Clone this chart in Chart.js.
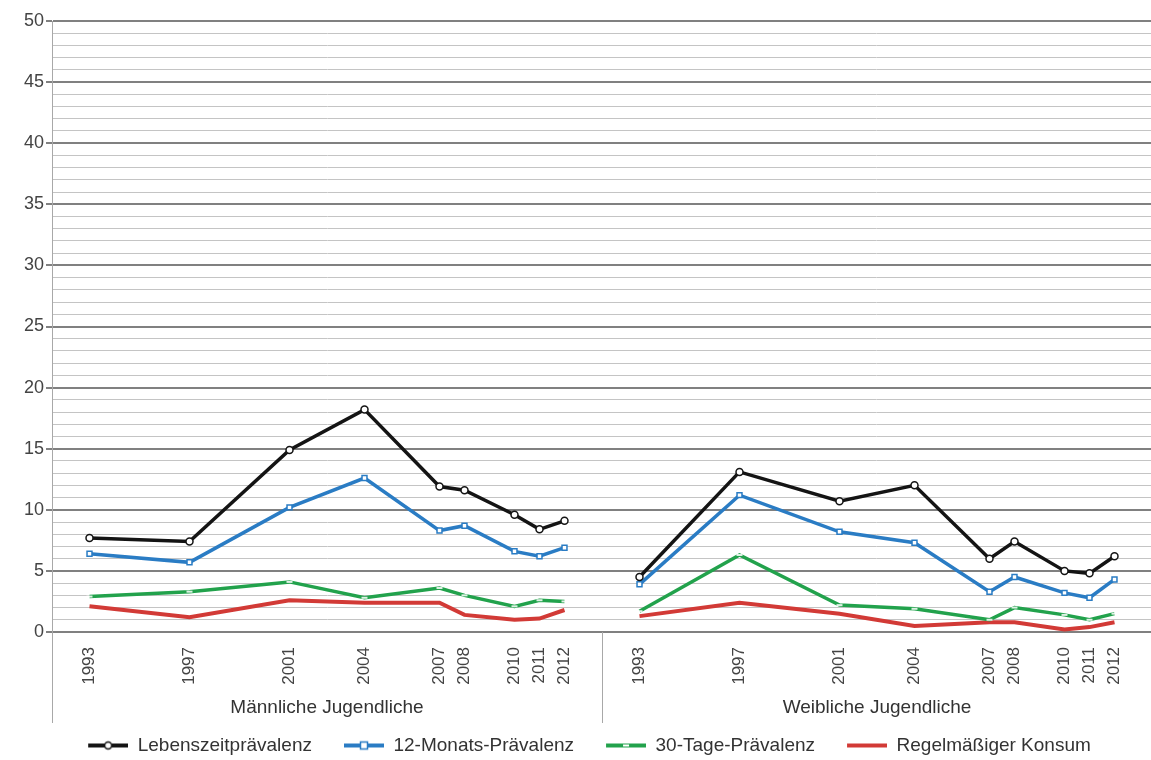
<!DOCTYPE html>
<html>
<head>
<meta charset="utf-8">
<script src="https://cdn.jsdelivr.net/npm/chart.js@4.4.0/dist/chart.umd.min.js"></script>
<style>
  html, body { margin: 0; padding: 0; background: #fff; }
</style>
</head>
<body>
<canvas id="chart" width="1151" height="760"></canvas>
<script>
// survey years (same for both groups)
const years = [1993, 1997, 2001, 2004, 2007, 2008, 2010, 2011, 2012];
const groupNames = ['Männliche Jugendliche', 'Weibliche Jugendliche'];
const seriesNames = ['Lebenszeitprävalenz', '12-Monats-Prävalenz', '30-Tage-Prävalenz', 'Regelmäßiger Konsum'];

// values in percent
const lebenszeitMale   = [7.7, 7.4, 14.9, 18.2, 11.9, 11.6, 9.6, 8.4, 9.1];
const lebenszeitFemale = [4.5, 13.1, 10.7, 12.0, 6.0, 7.4, 5.0, 4.8, 6.2];
const monate12Male     = [6.4, 5.7, 10.2, 12.6, 8.3, 8.7, 6.6, 6.2, 6.9];
const monate12Female   = [3.9, 11.2, 8.2, 7.3, 3.3, 4.5, 3.2, 2.8, 4.3];
const tage30Male       = [2.9, 3.3, 4.1, 2.8, 3.6, 3.0, 2.1, 2.6, 2.5];
const tage30Female     = [1.7, 6.3, 2.2, 1.9, 1.0, 2.0, 1.4, 1.0, 1.5];
const regelmMale       = [2.1, 1.2, 2.6, 2.4, 2.4, 1.4, 1.0, 1.1, 1.8];
const regelmFemale     = [1.3, 2.4, 1.5, 0.5, 0.8, 0.8, 0.2, 0.4, 0.8];

// second group is shifted along the x axis by this many years
const groupShift = 22;
const firstYear = years[0];
const lastYear = years[years.length - 1];

// x positions: years for group 1, shifted years for group 2
function xOf(year, group) {
    return year - firstYear + group * groupShift;
}

function buildPoints(male, female) {
    const pts = years.map((y, i) => ({ x: xOf(y, 0), y: male[i] }));
    pts.push({ x: (xOf(lastYear, 0) + xOf(firstYear, 1)) / 2, y: null }); // break between groups
    years.forEach((y, i) => pts.push({ x: xOf(y, 1), y: female[i] }));
    return pts;
}

const tickValues = [];
const tickLabels = {};
[0, 1].forEach(g => years.forEach(y => {
    tickValues.push(xOf(y, g));
    tickLabels[xOf(y, g)] = String(y);
}));

// small icons for the legend: line with marker in the middle,
// transparent margin on the left gives the gap between items
const iconGap = 28;
function legendIcon(color, marker) {
    const c = document.createElement('canvas');
    c.width = 40 + iconGap;
    c.height = 12;
    const g = c.getContext('2d');
    g.translate(iconGap, 0);
    g.strokeStyle = color;
    g.lineWidth = 4;
    g.beginPath();
    g.moveTo(0, 6);
    g.lineTo(40, 6);
    g.stroke();
    g.fillStyle = '#fff';
    g.lineWidth = 1.5;
    if (marker === 'circle') {
        g.beginPath();
        g.arc(20, 6, 3.5, 0, Math.PI * 2);
        g.fill();
        g.stroke();
    } else if (marker === 'rect') {
        g.fillRect(16.5, 2.5, 7, 7);
        g.strokeRect(16.5, 2.5, 7, 7);
    } else if (marker === 'dash') {
        g.fillRect(17, 5, 6, 2);
    }
    return c;
}

const colors = ['#141414', '#2a7cc4', '#22a24c', '#d23a36'];
const markers = ['circle', 'rect', 'dash', 'none'];
const icons = colors.map((c, i) => legendIcon(c, markers[i]));

// divider, extended axis line and group titles below the x axis
const groupPlugin = {
    id: 'groupLabels',
    afterDraw(chart) {
        const { ctx, chartArea, scales: { x } } = chart;
        const bottom = chartArea.bottom + 91;
        const divX = Math.round(x.getPixelForValue((xOf(lastYear, 0) + xOf(firstYear, 1)) / 2)) + 0.5;
        ctx.save();
        ctx.strokeStyle = '#a8a8a8';
        ctx.lineWidth = 1;
        ctx.beginPath();
        ctx.moveTo(chartArea.left + 0.5, chartArea.top);
        ctx.lineTo(chartArea.left + 0.5, bottom);
        ctx.moveTo(divX, chartArea.bottom);
        ctx.lineTo(divX, bottom);
        ctx.stroke();
        ctx.fillStyle = '#333';
        ctx.font = '19px "Liberation Sans", Arial, sans-serif';
        ctx.textAlign = 'center';
        ctx.textBaseline = 'middle';
        groupNames.forEach((name, g) => {
            const mid = (xOf(firstYear, g) + xOf(lastYear, g)) / 2;
            ctx.fillText(name, x.getPixelForValue(mid), chartArea.bottom + 76);
        });
        ctx.restore();
    }
};

const seriesData = [
    buildPoints(lebenszeitMale, lebenszeitFemale),
    buildPoints(monate12Male, monate12Female),
    buildPoints(tage30Male, tage30Female),
    buildPoints(regelmMale, regelmFemale)
];

const datasets = seriesNames.map((name, i) => ({
    label: name,
    data: seriesData[i],
    borderColor: colors[i],
    borderWidth: i === 3 ? 4 : 3.5,
    tension: 0,
    spanGaps: false,
    pointStyle: markers[i] === 'dash' ? 'line' : (markers[i] === 'none' ? false : markers[i]),
    pointRadius: markers[i] === 'none' ? 0 : (markers[i] === 'dash' ? 3 : 3.5),
    pointBackgroundColor: '#fff',
    pointBorderColor: markers[i] === 'dash' ? 'rgba(255,255,255,0.85)' : colors[i],
    pointBorderWidth: markers[i] === 'dash' ? 2 : 1.5
}));

new Chart(document.getElementById('chart'), {
    type: 'line',
    data: { datasets: datasets },
    options: {
        responsive: false,
        animation: false,
        layout: { autoPadding: false, padding: { top: 21, right: 0, left: 0, bottom: -5 } },
        plugins: {
            tooltip: { enabled: false },
            legend: {
                position: 'bottom',
                fullSize: true,
                labels: {
                    usePointStyle: true,
                    pointStyleWidth: 40 + iconGap,
                    padding: 4,
                    color: '#333',
                    font: { size: 19, family: '"Liberation Sans", Arial, sans-serif' },
                    generateLabels: chart => chart.data.datasets.map((ds, i) => ({
                        text: ds.label,
                        pointStyle: icons[i],
                        fillStyle: colors[i],
                        strokeStyle: colors[i],
                        lineWidth: 0,
                        hidden: false,
                        datasetIndex: i,
                        fontColor: '#333'
                    }))
                }
            }
        },
        scales: {
            x: {
                type: 'linear',
                min: -1.5,
                max: 42.46,
                afterBuildTicks: scale => {
                    scale.ticks = tickValues.map(v => ({ value: v }));
                },
                afterFit: scale => {
                    scale.height = 100;
                    scale.paddingLeft = 0;
                    scale.paddingRight = 0;
                },
                grid: { display: false },
                border: { display: false },
                ticks: {
                    autoSkip: false,
                    minRotation: 90,
                    maxRotation: 90,
                    padding: 7,
                    color: '#444',
                    font: { size: 17, family: '"Liberation Sans", Arial, sans-serif' },
                    callback: v => tickLabels[v] || ''
                }
            },
            y: {
                min: 0,
                max: 50,
                afterFit: scale => { scale.width = 52; },
                border: { display: true, color: '#a8a8a8', width: 1 },
                grid: {
                    color: c => (c.tick.value % 5 === 0 ? '#808080' : '#c4c4c4'),
                    lineWidth: c => (c.tick.value % 5 === 0 ? 2 : 1),
                    tickLength: 6,
                    tickColor: c => (c.tick.value % 5 === 0 ? '#808080' : 'rgba(0,0,0,0)')
                },
                ticks: {
                    stepSize: 1,
                    autoSkip: false,
                    padding: 2,
                    color: '#444',
                    font: { size: 18, family: '"Liberation Sans", Arial, sans-serif' },
                    callback: v => (v % 5 === 0 ? String(v) : '')
                }
            }
        }
    },
    plugins: [groupPlugin]
});
</script>
</body>
</html>
